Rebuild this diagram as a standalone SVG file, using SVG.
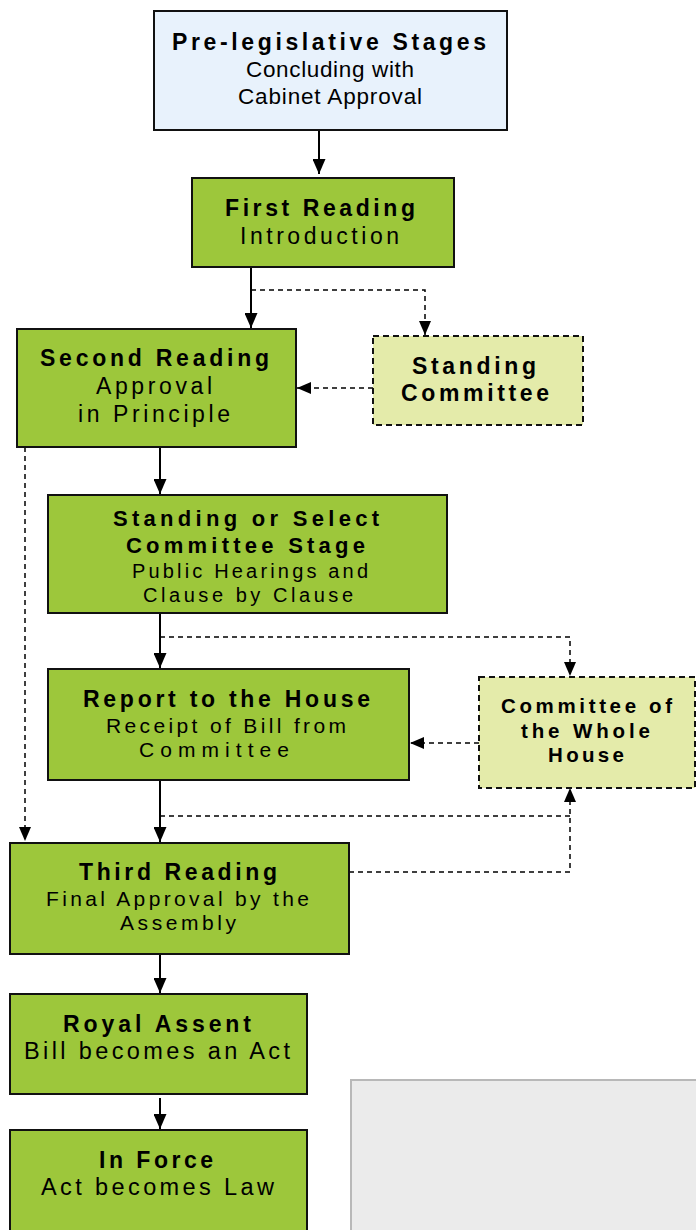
<svg xmlns="http://www.w3.org/2000/svg" width="696" height="1230" viewBox="0 0 696 1230">
<style>
.box{fill:#9dc73b;stroke:#111;stroke-width:2}
.pre{fill:#e8f2fc;stroke:#111;stroke-width:2}
.side{fill:#e4ebaa;stroke:#111;stroke-width:2;stroke-dasharray:6 4}
.grey{fill:#ebebeb;stroke:#b8b8b8;stroke-width:2}
.solid{fill:none;stroke:#000;stroke-width:2}
.dash{fill:none;stroke:#000;stroke-width:1.5;stroke-dasharray:5 4}
text{font-family:"Liberation Sans",Arial,sans-serif;fill:#000}
.h{font-weight:bold;font-size:23px}
.n{font-size:23px}
</style>
<defs>
<marker id="ah" viewBox="0 0 15 13" refX="15" refY="6.5" markerWidth="15" markerHeight="13" markerUnits="userSpaceOnUse" orient="auto">
<path d="M0,0 L15,6.5 L0,13 z" fill="#000"/>
</marker>
<marker id="ahd" viewBox="0 0 14 12" refX="14" refY="6" markerWidth="14" markerHeight="12" markerUnits="userSpaceOnUse" orient="auto">
<path d="M0,0 L14,6 L0,12 z" fill="#000"/>
</marker>
</defs>

<g id="connectors">
<path class="solid" d="M319,131 V174" marker-end="url(#ah)"/>
<path class="solid" d="M251,267 V328" marker-end="url(#ah)"/>
<path class="dash" d="M251,290 H425 V335" marker-end="url(#ahd)"/>
<path class="dash" d="M373,388 H297" marker-end="url(#ahd)"/>
<path class="dash" d="M25,447 V841" marker-end="url(#ahd)"/>
<path class="solid" d="M160,448 V494" marker-end="url(#ah)"/>
<path class="solid" d="M160,614 V668" marker-end="url(#ah)"/>
<path class="dash" d="M160,637 H570 V676" marker-end="url(#ahd)"/>
<path class="dash" d="M479,743 H410" marker-end="url(#ahd)"/>
<path class="solid" d="M160,781 V842" marker-end="url(#ah)"/>
<path class="dash" d="M160,816 H570"/>
<path class="dash" d="M349,872 H570 V788" marker-end="url(#ahd)"/>
<path class="solid" d="M160,955 V993" marker-end="url(#ah)"/>
<path class="solid" d="M160,1098 V1129" marker-end="url(#ah)"/>
</g>

<g id="pre-legislative">
<rect class="pre" x="154" y="11" width="353" height="119"/>
<text class="h" x="172" y="50" textLength="314" lengthAdjust="spacing">Pre-legislative Stages</text>
<text class="n" style="font-size:22.5px" x="246" y="77" textLength="168" lengthAdjust="spacing">Concluding with</text>
<text class="n" style="font-size:22.5px" x="238" y="104" textLength="184" lengthAdjust="spacing">Cabinet Approval</text>
</g>

<g id="first-reading">
<rect class="box" x="192" y="178" width="262" height="89"/>
<text class="h" x="225" y="216" textLength="190" lengthAdjust="spacing">First Reading</text>
<text class="n" x="240" y="244" textLength="159" lengthAdjust="spacing">Introduction</text>
</g>

<g id="second-reading">
<rect class="box" x="17" y="329" width="279" height="118"/>
<text class="h" x="40" y="366" textLength="229" lengthAdjust="spacing">Second Reading</text>
<text class="n" x="96" y="394" textLength="116" lengthAdjust="spacing">Approval</text>
<text class="n" x="78" y="422" textLength="152" lengthAdjust="spacing">in Principle</text>
</g>

<g id="standing-committee">
<rect class="side" x="373" y="336" width="210" height="89"/>
<text class="h" x="412" y="374" textLength="124" lengthAdjust="spacing">Standing</text>
<text class="h" x="401" y="401" textLength="148" lengthAdjust="spacing">Committee</text>
</g>

<g id="committee-stage">
<rect class="box" x="48" y="495" width="399" height="118"/>
<text class="h" style="font-size:22px" x="113" y="526" textLength="266" lengthAdjust="spacing">Standing or Select</text>
<text class="h" style="font-size:22px" x="126" y="553" textLength="239" lengthAdjust="spacing">Committee Stage</text>
<text class="n" style="font-size:20px" x="132" y="578" textLength="236" lengthAdjust="spacing">Public Hearings and</text>
<text class="n" style="font-size:20px" x="143" y="602" textLength="210" lengthAdjust="spacing">Clause by Clause</text>
</g>

<g id="report">
<rect class="box" x="48" y="669" width="361" height="111"/>
<text class="h" x="83" y="707" textLength="287" lengthAdjust="spacing">Report to the House</text>
<text class="n" style="font-size:21px" x="106" y="733" textLength="240" lengthAdjust="spacing">Receipt of Bill from</text>
<text class="n" style="font-size:21px" x="139" y="757" textLength="150" lengthAdjust="spacing">Committee</text>
</g>

<g id="committee-whole-house">
<rect class="side" x="479" y="677" width="216" height="111"/>
<text class="h" style="font-size:20.5px" x="501" y="713" textLength="171" lengthAdjust="spacing">Committee of</text>
<text class="h" style="font-size:20.5px" x="521" y="738" textLength="129" lengthAdjust="spacing">the Whole</text>
<text class="h" style="font-size:20.5px" x="548" y="762" textLength="76" lengthAdjust="spacing">House</text>
</g>

<g id="third-reading">
<rect class="box" x="10" y="843" width="339" height="111"/>
<text class="h" x="79" y="880" textLength="198" lengthAdjust="spacing">Third Reading</text>
<text class="n" style="font-size:21px" x="46" y="906" textLength="263" lengthAdjust="spacing">Final Approval by the</text>
<text class="n" style="font-size:21px" x="120" y="930" textLength="116" lengthAdjust="spacing">Assembly</text>
</g>

<g id="royal-assent">
<rect class="box" x="10" y="994" width="297" height="100"/>
<text class="h" x="63" y="1032" textLength="188" lengthAdjust="spacing">Royal Assent</text>
<text class="n" style="font-size:23.5px" x="24" y="1059" textLength="266" lengthAdjust="spacing">Bill becomes an Act</text>
</g>

<g id="in-force">
<rect class="box" x="10" y="1130" width="297" height="110"/>
<text class="h" x="99" y="1168" textLength="114" lengthAdjust="spacing">In Force</text>
<text class="n" style="font-size:23.5px" x="41" y="1195" textLength="233" lengthAdjust="spacing">Act becomes Law</text>
</g>

<g id="grey-panel">
<rect class="grey" x="351" y="1080" width="360" height="170"/>
</g>
</svg>
